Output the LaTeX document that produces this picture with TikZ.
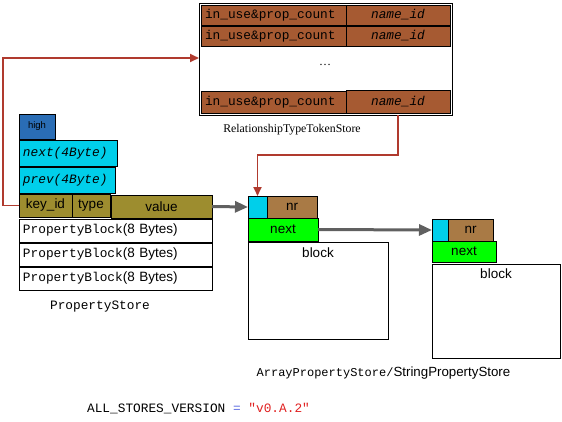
\documentclass[tikz,border=0pt]{standalone}
\usepackage{fontspec}
\setmainfont{Liberation Serif}
\setsansfont{Liberation Sans}
\setmonofont{Liberation Mono}
\usetikzlibrary{arrows.meta}
\definecolor{tokbrown}{HTML}{A65A32}
\definecolor{nrbrown}{HTML}{A97A45}
\definecolor{olivec}{HTML}{9D8D2F}
\definecolor{cyanc}{HTML}{00CFEA}
\definecolor{blueh}{HTML}{2A6DB5}
\definecolor{greenc}{HTML}{00FF00}
\definecolor{redc}{HTML}{B03A2E}
\definecolor{grayc}{HTML}{606060}
\definecolor{eqblue}{HTML}{5A6AE0}
\definecolor{strred}{HTML}{E02020}
\begin{document}
\begin{tikzpicture}[x=1pt,y=-1pt,
  box/.style={draw=black, line width=0.9pt, rectangle, anchor=north west, inner sep=0pt, outer sep=0pt},
  lbox/.style={box, inner xsep=4pt, align=left},
  mono/.style={font=\ttfamily\fontsize{12.8}{14}\selectfont},
  monoit/.style={font=\ttfamily\itshape\fontsize{12.8}{14}\selectfont},
  sans/.style={font=\sffamily\fontsize{13.5}{15}\selectfont},
  redline/.style={draw=redc, line width=1.8pt, -{Triangle[length=9pt,width=8pt]}},
  grayline/.style={draw=grayc, line width=3pt, -{Triangle[length=13pt,width=11pt]}}
]
\useasboundingbox (0,0) rectangle (562,421);

% RelationshipTypeTokenStore
\node[box, minimum width=253pt, minimum height=112pt] (rel) at (199,3) {};
\node[lbox, mono, fill=tokbrown, text width=137pt, minimum height=20pt] (r1a) at (201,5) {in\_use\&prop\_count};
\node[box, monoit, fill=tokbrown, minimum width=104pt, minimum height=20pt] (r1b) at (346,5) {name\_id};
\node[lbox, mono, fill=tokbrown, text width=137pt, minimum height=20pt] (r2a) at (201,26) {in\_use\&prop\_count};
\node[box, monoit, fill=tokbrown, minimum width=104pt, minimum height=20pt] (r2b) at (346,26) {name\_id};
\node[font=\fontsize{12}{14}\selectfont] (dots) at (325,65) {\ldots};
\node[lbox, mono, fill=tokbrown, text width=137pt, minimum height=22pt] (r3a) at (201,91) {in\_use\&prop\_count};
\node[box, monoit, fill=tokbrown, minimum width=104pt, minimum height=23pt] (r3b) at (346,90) {name\_id};
\node[font=\fontsize{11.8}{14}\selectfont] (relname) at (292,130) {RelationshipTypeTokenStore};

% PropertyStore
\node[box, fill=blueh, minimum width=36pt, minimum height=25pt, font=\sffamily\fontsize{9.5}{11}\selectfont] (high) at (19,114) {high};
\node[lbox, monoit, fill=cyanc, text width=90pt, minimum height=26pt, text depth=3pt] (next4) at (19,140) {next(4Byte)};
\node[lbox, monoit, fill=cyanc, text width=88pt, minimum height=26pt, text depth=3pt] (prev4) at (19,167) {prev(4Byte)};
\node[box, sans, fill=olivec, minimum width=53pt, minimum height=23pt] (key) at (19,194) {key\_id};
\node[box, sans, fill=olivec, minimum width=38pt, minimum height=23pt] (type) at (72,194) {type};
\node[box, sans, fill=olivec, minimum width=101pt, minimum height=23pt] (val) at (111,195) {value};
\node[lbox, sans, text width=185pt, minimum height=23pt] (pb1) at (19,219) {{\ttfamily\fontsize{12.8}{14}\selectfont PropertyBlock}(8 Bytes)};
\node[lbox, sans, text width=185pt, minimum height=23pt] (pb2) at (19,243) {{\ttfamily\fontsize{12.8}{14}\selectfont PropertyBlock}(8 Bytes)};
\node[lbox, sans, text width=185pt, minimum height=23pt] (pb3) at (19,267) {{\ttfamily\fontsize{12.8}{14}\selectfont PropertyBlock}(8 Bytes)};
\node[mono] (psname) at (100,307) {PropertyStore};

% Array / String property store blocks
\node[box, fill=cyanc, minimum width=19pt, minimum height=22pt] (a1c) at (248,196) {};
\node[box, sans, fill=nrbrown, minimum width=50pt, minimum height=22pt] (a1nr) at (267,196) {nr};
\node[box, sans, fill=greenc, minimum width=70pt, minimum height=23pt] (a1n) at (248,218) {next};
\node[box, minimum width=140pt, minimum height=97pt, label={[sans, anchor=center, yshift=-11pt]north:block}] (a1b) at (248,242) {};

\node[box, fill=cyanc, minimum width=16pt, minimum height=22pt] (b1c) at (432,219) {};
\node[box, sans, fill=nrbrown, minimum width=45pt, minimum height=22pt] (b1nr) at (448,219) {nr};
\node[box, sans, fill=greenc, minimum width=64pt, minimum height=21pt] (b1n) at (432,241) {next};
\node[box, minimum width=128pt, minimum height=94pt, label={[sans, anchor=center, yshift=-10pt]north:block}] (b1b) at (432,264) {};

\node (asname) at (383.5,373) {{\ttfamily\fontsize{12}{14}\selectfont ArrayPropertyStore/}{\sffamily\fontsize{13.3}{15}\selectfont StringPropertyStore}};

\node[mono] (version) at (198.5,409) {ALL\_STORES\_VERSION {\color{eqblue}=} {\color{strred}"v0.A.2"}};

% connectors
\coordinate (bendA) at (398,155);
\coordinate (topY) at (0,58);
\draw[redline] (r3b.center |- rel.south) -- (r3b.center |- bendA) -| (a1c.north);
\draw[redline] (key.west) -- ++(-16,0) |- (rel.west |- topY);
\draw[grayline] (val.east) -- (a1c.west);
\draw[grayline] (a1n.east) -- (b1c.west);
\end{tikzpicture}
\end{document}
